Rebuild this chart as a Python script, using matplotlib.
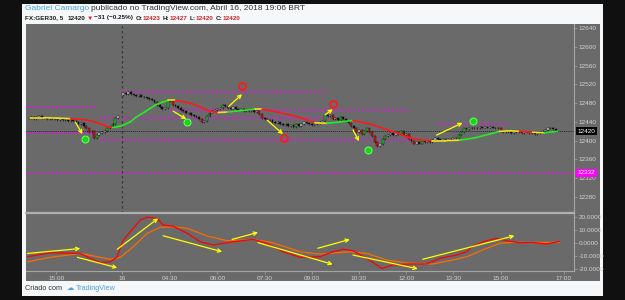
import numpy as np
import matplotlib.pyplot as plt
from matplotlib.patches import Rectangle
from matplotlib.collections import LineCollection
from matplotlib.transforms import blended_transform_factory

plt.rcParams['font.family'] = ['Liberation Sans', 'DejaVu Sans']

# FX:GER30, 5 min candles (x = bar index, session break between bar 35 and 37)
day1_open = 12448
day1_close = [12449, 12450, 12447, 12451, 12452, 12448, 12449, 12446, 12448, 12447,
              12446, 12444, 12446, 12443, 12445, 12442, 12444,
              12441, 12439, 12436, 12437, 12432, 12426, 12418, 12420, 12406, 12412,
              12416, 12418, 12420, 12426, 12430, 12436, 12448, 12452]
day2_open = 12498
day2_close = [12502, 12500, 12503, 12499, 12497, 12496, 12497, 12494, 12492,
              12490, 12489, 12486, 12482, 12476, 12472, 12468, 12470, 12486, 12484,
              12476, 12474, 12470, 12466, 12463, 12458, 12460, 12455, 12452, 12450,
              12446, 12440, 12442, 12452, 12460, 12464, 12466, 12468, 12470, 12476,
              12474, 12470, 12468, 12471, 12468, 12466, 12468, 12464, 12466, 12463,
              12466, 12462, 12464, 12456, 12448, 12446, 12444, 12445, 12440, 12437,
              12439, 12436, 12434, 12435, 12432, 12434, 12430, 12436, 12432, 12436,
              12440, 12438, 12436, 12434, 12436, 12438, 12440, 12442, 12455, 12452,
              12454, 12446, 12449, 12444, 12450, 12446, 12442, 12438, 12432, 12428,
              12418, 12422, 12414, 12420, 12426, 12418, 12410, 12398, 12388, 12392,
              12404, 12410, 12412, 12416, 12412, 12416, 12414, 12420, 12412, 12414,
              12404, 12400, 12394, 12398, 12394, 12400, 12398, 12400, 12398, 12402,
              12406, 12404, 12402, 12404, 12402, 12404, 12403, 12405, 12406, 12412,
              12418, 12426, 12424, 12428, 12426, 12428, 12427, 12429, 12428, 12430,
              12428, 12429, 12428, 12426, 12427, 12420, 12418, 12420, 12418, 12416,
              12418, 12420, 12418, 12416, 12418, 12419, 12417, 12418, 12414, 12416,
              12418, 12420, 12422, 12426, 12428, 12424, 12420]

# moving average (bar index, value)
ma_x = [1.7, 7.3, 12, 17, 23.4, 28.4, 31, 33, 35, 36.7, 39.8, 42, 45.5, 49.3, 52, 54.2, 57,
        62.6, 66.4, 70.2, 73.3, 76.7, 81.6, 87.4, 90, 95, 100.7, 106.4, 110.2, 114.8,
        119.7, 124.7, 131, 137.6, 142.6, 146.4, 150.2, 154.7, 159.7, 165.4, 171.1,
        176.8, 180.6, 184.4, 188.2, 193.2, 197.7, 202.7]
ma_y = [12449, 12449, 12448, 12447, 12444, 12436, 12430, 12428, 12430, 12432, 12440,
        12450, 12462, 12476, 12482, 12486, 12486, 12480, 12472, 12462, 12460, 12461,
        12464, 12467, 12467, 12462, 12455, 12446, 12438, 12437, 12440, 12443, 12436,
        12424, 12414, 12406, 12402, 12400, 12400, 12401, 12406, 12414, 12420, 12421,
        12420, 12418, 12417, 12420]

# support / resistance levels: price, from bar, to bar
lvl_price = [12503, 12472, 12465, 12448, 12435, 12416, 12401, 12332]
lvl_from = [36.7, 0, 55, 28.4, 156.6, 0, 28.4, 0]
lvl_to = [114.8, 27.2, 146.4, 115.9, 184.4, 27.2, 146.4, 209]

# arrows in the price pane: (x0, y0, x1, y1)
price_arrows = [(18.8, 12440, 21.5, 12414), (56.1, 12463, 61.1, 12446),
                (77.1, 12472, 82.4, 12499), (91.9, 12444, 98.0, 12414),
                (114.0, 12455, 117.0, 12467), (124.7, 12423, 127.0, 12399),
                (156.6, 12412, 166.5, 12438)]
green_sig_x = [22.6, 61.5, 130.4, 170.3]
green_sig_y = [12404, 12440, 12380, 12442]
red_sig_x = [82.4, 98.4, 117.0]
red_sig_y = [12516, 12406, 12478]

# oscillator
osc_fast_x = [0.6, 9.3, 20.7, 24.5, 28.4, 32.2, 34.8, 37.1, 39.8, 43.6, 46.2, 50, 52.3,
              56.1, 61.5, 66.4, 71.4, 79, 86.6, 91.9, 98, 104.5, 112.1, 117, 120.9,
              124.7, 130, 135.7, 139.9, 146.4, 152.8, 157.8, 164.2, 168.1, 170.3,
              175.7, 179.5, 183.3, 188.2, 193.2, 198.5, 203.5]
osc_fast = [-10.5, -7.5, -8, -11.8, -15, -14.4, -10.5, 2.3, 8.7, 17.7, 19.8, 19, 13.8,
            13, 7.5, 1, -1.5, 1, 2.8, -0.2, -6.7, -11, -10.5, -6.7, -4.8, -5.9, -11.8,
            -19.5, -16.9, -16.1, -16.1, -11.8, -9.2, -6.7, -2.3, 1.8, 3.6, 1.8, 0.2,
            0.5, -0.8, 1.3]
osc_slow_x = [0.6, 9.3, 20.7, 27.2, 32.2, 36, 40.9, 46.2, 51.2, 56.1, 61.5, 69.1, 76.7,
              86.6, 94.2, 104.5, 112.1, 123.5, 130, 137.6, 146.4, 155.1, 162.7, 168.1,
              175.7, 180.6, 185.6, 193.2, 203.5]
osc_slow = [-14.4, -11, -8, -10.5, -12.5, -11, -2.8, 7.5, 12.1, 12.5, 11.3, 5.4, 1.8,
            2.8, 0.2, -6.7, -8.5, -6.7, -8, -13.1, -15.6, -16.1, -13.1, -10.5, -4.1,
            -0.2, 0.5, 0.5, 0.5]
osc_arrows = [(0.6, -8, 20.7, -4.2), (19.6, -11, 34.8, -19), (34.8, -4.8, 50.4, 19),
              (52.3, 5.6, 74.8, -6.7), (78.6, 2.8, 88.5, 8.2), (88.5, 0.3, 117, -16.4),
              (111.3, -4, 123.5, 2.8), (124.7, -9.2, 149.4, -19.8),
              (151.3, -12.5, 186.3, 5.6)]

time_pos = [11.5, 36.7, 55, 73, 91, 109, 127, 145, 163, 181, 205]
time_lbl = ['15:00', '16', '04:30', '06:00', '07:30', '09:00', '10:30', '12:00',
            '13:30', '15:00', '17:00']
last_price = 12420
alert_price = 12332

W, H = 625, 300
GRAY = '#6a6a6a'
AXC = '#a6a6a6'
TXT = '#d2d2d2'


def box(l, t, r, b):
    return [l / W, 1 - b / H, (r - l) / W, (b - t) / H]


fig = plt.figure(figsize=(6.25, 3.0), dpi=100, facecolor='#101010')
fig.patches.append(Rectangle((22 / W, 1 - 296 / H), 581 / W, 292 / H, transform=fig.transFigure,
                             facecolor='#f5f7f9', edgecolor='none', zorder=-20))
fig.patches.append(Rectangle((26 / W, 1 - 281 / H), 574 / W, 257 / H, transform=fig.transFigure,
                             facecolor=GRAY, edgecolor='none', zorder=-10))

ax = fig.add_axes(box(26, 24, 574, 213))
ax2 = fig.add_axes(box(26, 213, 574, 271), sharex=ax)
for a in (ax, ax2):
    a.set_facecolor(GRAY)
    for s in a.spines.values():
        s.set_visible(False)
    a.spines['right'].set_visible(True)
    a.spines['right'].set_color(AXC)
    a.spines['right'].set_linewidth(0.8)
    a.yaxis.tick_right()
    a.tick_params(axis='y', colors=AXC, labelcolor=TXT, labelsize=4.6, length=2, width=0.5, pad=1.5)
ax2.spines['top'].set_visible(True)
ax2.spines['top'].set_color('#b0b0b0')
ax2.spines['top'].set_linewidth(1.6)
ax2.spines['bottom'].set_visible(True)
ax2.spines['bottom'].set_color(AXC)
ax2.spines['bottom'].set_linewidth(0.8)

ax.set_xlim(0, 209)
ax.set_ylim(12246, 12648.5)

# candles
x1 = np.arange(1, len(day1_close) + 1)
x2 = np.arange(37, 37 + len(day2_close))
xs = np.concatenate([x1, x2])
c = np.array(day1_close + day2_close, dtype=float)
o = np.concatenate([[day1_open], day1_close[:-1], [day2_open], day2_close[:-1]]).astype(float)
lo = np.minimum(o, c)
hi = np.maximum(o, c)
d = c - o
cols = np.where(d >= 6, '#19c219', np.where(d <= -6, '#e01010', np.where(d >= 0, '#f4f4f4', '#111111')))
ax.vlines(xs, lo - 2, hi + 2, colors='#111111', lw=0.4, zorder=3)
ax.bar(xs, np.maximum(hi - lo, 0.8), bottom=lo, width=0.7, color=cols, edgecolor='#111111',
       linewidth=0.3, zorder=4)

# levels
for p, a0, a1 in zip(lvl_price, lvl_from, lvl_to):
    ax.hlines(p, a0, a1, colors='#ff00ff', lw=1.1, linestyles=(0, (1.2, 1.6)), zorder=2)
ax.hlines(last_price, 0, 209, colors='#262626', lw=0.6, linestyles=(0, (1.5, 1)), zorder=2)
ax.vlines(36.7, 12246, 12648.5, colors='#3a3a3a', lw=0.9, linestyles=(0, (2, 2)), zorder=1)

# moving average colored by direction
mx = np.array(ma_x)
my = np.array(ma_y, dtype=float)
segs = [[(mx[i], my[i]), (mx[i + 1], my[i + 1])] for i in range(len(mx) - 1)]
slope = np.diff(my) / np.diff(mx)
mcols = ['#22ee22' if s > 0.3 else '#ff1a1a' if s < -0.3 else '#f0e020' for s in slope]
ax.add_collection(LineCollection(segs, colors=mcols, linewidths=1.2, zorder=5, capstyle='round'))

for x0, y0, xa, ya in price_arrows:
    ax.annotate('', xy=(xa, ya), xytext=(x0, y0),
                arrowprops=dict(arrowstyle='->', color='#ffff00', lw=0.9, mutation_scale=6,
                                shrinkA=0, shrinkB=0), zorder=6)
ax.plot(green_sig_x, green_sig_y, 'o', ms=5, mfc='#19d419', mec='#5cff5c', mew=0.8, zorder=7)
ax.plot(red_sig_x, red_sig_y, 'o', ms=5, mfc='none', mec='#ff1a1a', mew=1.3, zorder=7)

ax.set_xlim(0, 209)
ax.set_ylim(12246, 12648.5)
ax.set_yticks(np.arange(12280, 12641, 40))
ax.tick_params(axis='x', which='both', bottom=False, labelbottom=False)

tr = blended_transform_factory(ax.transAxes, ax.transData)
ax.text(1.006, last_price, str(last_price), transform=tr, color='white', fontsize=4.6,
        va='center', ha='left', clip_on=False, zorder=10,
        bbox=dict(boxstyle='square,pad=0.25', fc='#050505', ec='none'))
ax.text(1.006, alert_price, str(alert_price), transform=tr, color='white', fontsize=4.6,
        va='center', ha='left', clip_on=False, zorder=10,
        bbox=dict(boxstyle='square,pad=0.25', fc='#ff00ff', ec='none'))

# oscillator pane
ax2.plot(osc_slow_x, osc_slow, color='#ff6a00', lw=0.9, zorder=3)
ax2.plot(osc_fast_x, osc_fast, color='#ff0000', lw=0.9, zorder=4)
for x0, y0, xa, ya in osc_arrows:
    ax2.annotate('', xy=(xa, ya), xytext=(x0, y0),
                 arrowprops=dict(arrowstyle='->', color='#ffff00', lw=0.9, mutation_scale=6,
                                 shrinkA=0, shrinkB=0), zorder=6)
ax2.set_ylim(-21.5, 23.1)
ax2.set_yticks([-20, -10, 0, 10, 20])
ax2.set_yticklabels(['%.4f' % v for v in [-20, -10, 0, 10, 20]])
ax2.set_xticks(time_pos)
ax2.set_xticklabels(time_lbl)
ax2.tick_params(axis='x', colors=AXC, labelcolor=TXT, labelsize=4.6, length=2, width=0.5, pad=1.5)

# header / footer
renderer = fig.canvas.get_renderer()


def row(pieces, x, py, size, weight='normal'):
    for s, col, gap in pieces:
        t = fig.text(x / W, 1 - py / H, s, color=col, fontsize=size, va='center', ha='left',
                     fontweight=weight)
        x = t.get_window_extent(renderer=renderer).x1 + gap


row([('Gabriel Camargo', '#4aa3df', 1.5), ('publicado no TradingView.com, Abril 16, 2018 19:06 BRT', '#333333', 0)],
    25, 9, 6.0)
RED = '#d0262a'
DK = '#1e1e1e'
row([('FX:GER30, 5', DK, 4), ('12420', DK, 1.5), ('\u25bc', RED, 1.5), ('\u221231 (\u22120.25%)', DK, 2),
     ('O:', DK, 0.5), ('12423', RED, 2), ('H:', DK, 0.5), ('12427', RED, 2),
     ('L:', DK, 0.5), ('12420', RED, 2), ('C:', DK, 0.5), ('12420', RED, 0)],
    25, 18, 4.6, weight='semibold')
row([('Criado com', '#333333', 5), ('\u2601', '#4aa3df', 2), ('TradingView', '#4aa3df', 0)],
    25, 288.5, 5.2)

fig.savefig('out.png', dpi=100, facecolor=fig.get_facecolor())
